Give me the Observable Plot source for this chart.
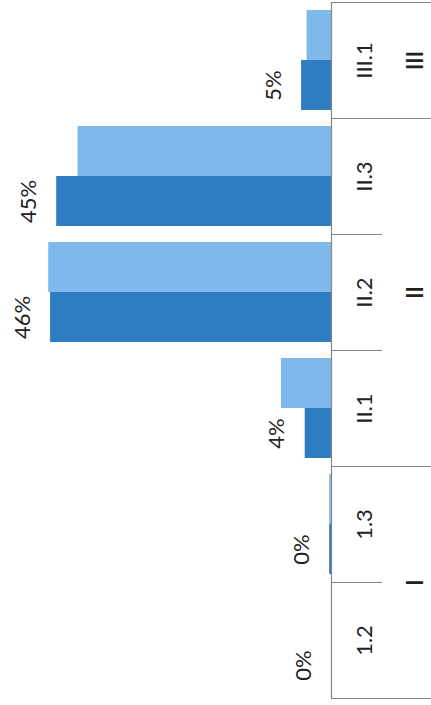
<!DOCTYPE html>
<html><head><meta charset="utf-8">
<script src="https://cdn.jsdelivr.net/npm/d3@7"></script>
<script src="https://cdn.jsdelivr.net/npm/@observablehq/plot@0.6"></script>
<style>body{margin:0;background:#fff}</style>
</head><body><div id="chart"></div>
<script>
const categories = ["1.2", "1.3", "II.1", "II.2", "II.3", "III.1"];
const darkValues = [0, 0.3, 4.3, 46, 45, 4.9];
const lightValues = [0, 0.3, 8.2, 46.3, 41.5, 4.0];
const valueLabels = ["0%", "0%", "4%", "46%", "45%", "5%"];
const groups = ["I", "II", "III"];
const groupSizes = [2, 3, 1];

const rows = categories.map((c, i) => ({c, i, dark: darkValues[i], light: lightValues[i], label: valueLabels[i]}));
let start = 0;
const groupRows = groups.map((g, k) => { const s = start; start += groupSizes[k]; return {g, s, e: start}; });
const boundaries = d3.range(categories.length + 1).map(b => ({b, major: groupRows.some(g => g.s === b || g.e === b)}));

const chart = Plot.plot({
  width: 431, height: 705,
  marginLeft: 0, marginRight: 100, marginTop: 2, marginBottom: 7,
  x: {domain: [0, 54.2], reverse: true, axis: null},
  y: {domain: [0, categories.length], axis: null},
  style: {fontFamily: "Lato, sans-serif", background: "#fff", color: "#222"},
  marks: [
    Plot.rect(rows, {x1: 0, x2: "light", y1: d => d.i + 0.5, y2: d => d.i + 0.931, fill: "#7fb8ea"}),
    Plot.rect(rows, {x1: 0, x2: "dark", y1: d => d.i + 0.069, y2: d => d.i + 0.5, fill: "#2e7cc1"}),
    Plot.ruleX([0], {y1: 0, y2: categories.length, stroke: "#8a8580", strokeWidth: 1.2}),
    Plot.ruleY(boundaries.filter(d => d.major), {y: "b", x1: 0, x2: 0, insetRight: -100, stroke: "#8a8580", strokeWidth: 1.2}),
    Plot.ruleY(boundaries.filter(d => !d.major), {y: "b", x1: 0, x2: 0, insetRight: -51, stroke: "#8a8580", strokeWidth: 1.2}),
    Plot.text(rows, {x: "dark", y: d => d.i + 0.2845, text: "label", rotate: -90, dx: -28, fontSize: 22, fill: "#222"}),
    Plot.text(rows, {x: 0, y: d => d.i + 0.5, text: "c", rotate: -90, dx: 33, fontSize: 22, fill: "#222"}),
    Plot.text(groupRows, {x: 0, y: d => (d.s + d.e) / 2, text: "g", rotate: -90, dx: 84, fontSize: 22, fontWeight: 600, fill: "#222"})
  ]
});
document.getElementById("chart").appendChild(chart);
</script>
</body></html>
